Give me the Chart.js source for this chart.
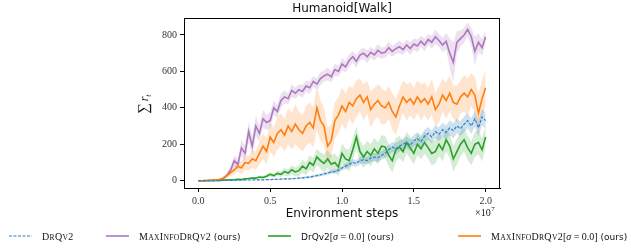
<!DOCTYPE html>
<html>
<head>
<meta charset="utf-8">
<script src="https://cdn.jsdelivr.net/npm/chart.js@4.4.1/dist/chart.umd.min.js"></script>
<style>
  html, body { margin: 0; padding: 0; background: #fff; }
  canvas { display: block; }
</style>
</head>
<body>
<canvas id="c" width="631" height="248"></canvas>
<script>
// Humanoid[Walk] - episode return vs environment steps (in millions)

const steps = [
  0, 0.25, 0.5, 0.75, 1, 1.25, 1.5, 1.75, 2, 2.25,
  2.5, 2.75, 3, 3.25, 3.5, 3.75, 4, 4.25, 4.5, 4.75,
  5, 5.25, 5.5, 5.75, 6, 6.25, 6.5, 6.75, 7, 7.25,
  7.5, 7.75, 8, 8.25, 8.5, 8.75, 9, 9.25, 9.5, 9.75,
  10, 10.25, 10.5, 10.75, 11, 11.25, 11.5, 11.75, 12, 12.25,
  12.5, 12.75, 13, 13.25, 13.5, 13.75, 14, 14.25, 14.5, 14.75,
  15, 15.25, 15.5, 15.75, 16, 16.25, 16.5, 16.75, 17, 17.25,
  17.5, 17.75, 18, 18.25, 18.5, 18.75, 19, 19.25, 19.5, 19.75,
  20
];

const drqv2 = [
  0, 0, 0, 0, 1, 1, 1, 2, 2, 2,
  3, 3, 3, 4, 4, 4, 5, 5, 5, 6,
  6, 7, 8, 9, 10, 10, 11, 12, 14, 16,
  18, 20, 24, 28, 32, 38, 42, 48, 50, 58,
  70, 80, 90, 100, 95, 110, 115, 110, 125, 130,
  125, 140, 150, 170, 185, 175, 190, 200, 210, 195,
  220, 230, 215, 245, 260, 240, 270, 255, 280, 265,
  290, 275, 300, 285, 310, 330, 300, 340, 290, 350,
  330
];
const drqv2Spread = [
  0, 0, 0, 0, 0, 0, 0, 0, 1, 1,
  1, 1, 1, 1, 1, 2, 2, 2, 2, 2,
  2, 3, 3, 3, 3, 4, 4, 4, 5, 5,
  6, 6, 7, 8, 8, 9, 10, 10, 12, 12,
  14, 15, 16, 18, 18, 20, 20, 22, 22, 24,
  24, 25, 26, 28, 28, 30, 30, 30, 32, 32,
  32, 34, 34, 35, 35, 36, 36, 38, 38, 38,
  40, 40, 40, 40, 42, 42, 42, 44, 44, 45,
  45
];

const maxInfo = [
  0, 0, 1, 1, 2, 3, 5, 12, 30, 60,
  110, 90, 180, 150, 270, 190, 300, 260, 340, 320,
  330, 400, 380, 440, 460, 450, 495, 480, 500, 490,
  520, 510, 545, 530, 560, 575, 585, 570, 610, 600,
  640, 625, 660, 680, 655, 690, 700, 680, 705, 690,
  715, 700, 705, 730, 710, 725, 735, 720, 745, 725,
  750, 740, 765, 745, 775, 760, 790, 770, 745, 765,
  700, 650, 760, 780, 800, 830, 790, 710, 760, 730,
  790
];
const maxInfoSpread = [
  0, 0, 0, 1, 1, 2, 3, 6, 12, 20,
  30, 30, 45, 40, 55, 50, 55, 45, 50, 40,
  45, 40, 35, 40, 35, 30, 35, 30, 30, 35,
  30, 35, 30, 30, 35, 30, 35, 30, 35, 30,
  35, 30, 35, 30, 35, 30, 30, 35, 30, 30,
  35, 30, 30, 35, 30, 30, 35, 30, 30, 35,
  30, 35, 30, 35, 30, 35, 40, 35, 40, 45,
  80, 110, 60, 45, 40, 40, 50, 80, 50, 45,
  40
];

const drqv2Sigma0 = [
  0, 0, 0, 1, 1, 2, 2, 3, 4, 5,
  5, 8, 7, 10, 12, 15, 14, 20, 18, 25,
  35, 28, 40, 35, 50, 42, 60, 48, 55, 80,
  65, 100, 85, 130, 110, 95, 120, 90, 100, 75,
  150, 120, 110, 170, 240, 160, 130, 160, 140, 175,
  150, 190, 185, 140, 110, 170, 185, 160, 210, 180,
  150, 200, 175, 210, 180, 150, 160, 200, 170, 225,
  190, 120, 160, 200, 225, 180, 150, 200, 210, 170,
  240
];
const drqv2Sigma0Spread = [
  0, 0, 0, 0, 1, 1, 1, 2, 2, 3,
  3, 4, 4, 5, 5, 6, 6, 8, 8, 10,
  12, 12, 15, 15, 20, 20, 25, 25, 30, 35,
  35, 40, 40, 45, 45, 50, 50, 50, 50, 50,
  55, 55, 60, 60, 60, 60, 60, 60, 60, 60,
  60, 60, 60, 60, 65, 65, 60, 60, 60, 60,
  60, 60, 60, 60, 60, 65, 65, 65, 65, 65,
  65, 70, 70, 70, 65, 65, 65, 70, 65, 65,
  60
];

const maxInfoSigma0 = [
  0, 0, 1, 1, 2, 3, 8, 15, 30, 45,
  60, 80, 70, 100, 95, 120, 110, 150, 190, 160,
  240, 210, 260, 280, 250, 300, 270, 310, 280, 260,
  300, 320, 290, 400, 330, 300, 190, 220, 330, 360,
  410, 380, 430, 410, 450, 470, 430, 460, 390, 420,
  440, 410, 400, 430, 380, 350, 410, 460, 430, 450,
  420, 460, 430, 450, 420, 460, 390, 420, 470, 440,
  480, 430, 420, 460, 480, 460, 500, 470, 370, 450,
  510
];
const maxInfoSigma0Spread = [
  0, 0, 0, 1, 1, 2, 5, 8, 12, 18,
  25, 30, 35, 40, 40, 50, 50, 60, 70, 70,
  80, 80, 90, 90, 90, 100, 100, 110, 100, 100,
  110, 110, 110, 120, 110, 100, 100, 90, 100, 100,
  100, 100, 90, 100, 100, 90, 100, 90, 100, 90,
  90, 100, 90, 90, 100, 100, 90, 90, 100, 90,
  90, 90, 100, 90, 90, 100, 90, 100, 90, 100,
  100, 90, 100, 90, 100, 100, 90, 100, 110, 100,
  100
];

const xTicks = [0, 5, 10, 15, 20];
const yTicks = [0, 200, 400, 600, 800];

const SERIF = '"Liberation Serif", "DejaVu Serif", serif';
const SANS = '"DejaVu Sans", sans-serif';

const BLUE = "#2f7fc8";
const PURPLE = "#ad78bd";
const GREEN = "#2ca02c";
const ORANGE = "#ff7f0e";

// legend texts: pieces with a style (sc = small caps serif, math = serif, sans)
const legendLabels = [
  [["DrQv2", "sc"]],
  [["MaxInfoDrQv2", "sc"], [" (ours)", "sans"]],
  [["DrQv2", "sans"], ["[", "math"], ["σ", "mathit"], [" = 0.0]", "math"], [" (ours)", "sans"]],
  [["MaxInfoDrQv2", "sc"], ["[", "math"], ["σ", "mathit"], [" = 0.0]", "math"], [" (ours)", "sans"]],
];
const legendX = [9, 106, 268, 458];

const series = [
  { label: "DrQv2", mean: drqv2, spread: drqv2Spread, color: BLUE, band: "rgba(31,119,180,0.22)", dash: [3, 1.5], width: 1.2, order: 1 },
  { label: "MaxInfoDrQv2 (ours)", mean: maxInfo, spread: maxInfoSpread, color: PURPLE, band: "rgba(173,120,189,0.22)", dash: [], width: 1.6, order: 4 },
  { label: "DrQv2[σ = 0.0] (ours)", mean: drqv2Sigma0, spread: drqv2Sigma0Spread, color: GREEN, band: "rgba(44,160,44,0.2)", dash: [], width: 1.6, order: 3 },
  { label: "MaxInfoDrQv2[σ = 0.0] (ours)", mean: maxInfoSigma0, spread: maxInfoSigma0Spread, color: ORANGE, band: "rgba(255,127,14,0.2)", dash: [], width: 1.6, order: 2 },
];

const datasets = [];
series.forEach((s, k) => {
  const upper = steps.map((x, i) => ({ x, y: s.mean[i] + s.spread[i] }));
  const lower = steps.map((x, i) => ({ x, y: s.mean[i] - s.spread[i] }));
  datasets.push({
    label: s.label + " hi", data: upper, borderWidth: 0, pointRadius: 0,
    backgroundColor: s.band, fill: "+1", order: 20 + k, tension: 0,
  });
  datasets.push({
    label: s.label + " lo", data: lower, borderWidth: 0, pointRadius: 0,
    backgroundColor: s.band, fill: false, order: 20 + k, tension: 0,
  });
});
series.forEach((s) => {
  datasets.push({
    label: s.label, data: steps.map((x, i) => ({ x, y: s.mean[i] })),
    borderColor: s.color, borderWidth: s.width, borderDash: s.dash,
    pointRadius: 0, fill: false, tension: 0, order: s.order,
  });
});

function drawPieces(ctx, pieces, x, y) {
  let cx = x;
  ctx.textBaseline = "alphabetic";
  ctx.textAlign = "left";
  for (const [text, style] of pieces) {
    if (style === "sc") {
      for (const ch of text) {
        const low = ch !== ch.toUpperCase();
        ctx.font = (low ? "7.6px " : "10px ") + SERIF;
        const c = ch.toUpperCase();
        ctx.fillText(c, cx, y);
        cx += ctx.measureText(c).width + 0.3;
      }
    } else {
      if (style === "sans") ctx.font = "9px " + SANS;
      else if (style === "mathit") ctx.font = "italic 10px " + SERIF;
      else ctx.font = "10px " + SERIF;
      ctx.fillText(text, cx, y);
      cx += ctx.measureText(text).width;
    }
  }
}

const decor = {
  id: "decor",
  afterDraw(chart) {
    const ctx = chart.ctx;
    const a = chart.chartArea;
    ctx.save();
    ctx.strokeStyle = "#000";
    ctx.lineWidth = 1;
    ctx.strokeRect(Math.round(a.left) + 0.5, Math.round(a.top) + 0.5, Math.round(a.right - a.left) - 1, Math.round(a.bottom - a.top));
    ctx.fillStyle = "#111";

    // title
    ctx.font = "12px " + SANS;
    ctx.textAlign = "center";
    ctx.textBaseline = "middle";
    ctx.fillText("Humanoid[Walk]", (a.left + a.right) / 2, 9);

    // x label
    ctx.fillText("Environment steps", (a.left + a.right) / 2, 214);

    // multiplier
    ctx.textAlign = "left";
    ctx.textBaseline = "alphabetic";
    ctx.font = "10px " + SERIF;
    ctx.fillText("×10", 475, 216);
    const w = ctx.measureText("×10").width;
    ctx.font = "7px " + SERIF;
    ctx.fillText("7", 475 + w + 0.5, 211);

    // y label
    ctx.save();
    ctx.translate(148, 114);
    ctx.rotate(-Math.PI / 2);
    ctx.font = "15px " + SERIF;
    ctx.fillText("∑", 0, 0);
    const sw = ctx.measureText("∑").width;
    ctx.font = "italic 12px " + SERIF;
    ctx.fillText("r", sw + 2, 0);
    const rw = ctx.measureText("r").width;
    ctx.font = "italic 8px " + SERIF;
    ctx.fillText("t", sw + 2 + rw, 3);
    ctx.restore();

    // legend
    series.forEach((s, k) => {
      const lx = legendX[k];
      const ly = 236;
      ctx.beginPath();
      ctx.strokeStyle = s.color;
      ctx.lineWidth = s.width;
      ctx.setLineDash(s.dash);
      ctx.moveTo(lx, ly);
      ctx.lineTo(lx + 23, ly);
      ctx.stroke();
      ctx.setLineDash([]);
      ctx.fillStyle = "#111";
      drawPieces(ctx, legendLabels[k], lx + 33, ly + 3.5);
    });
    ctx.restore();
  },
};

new Chart(document.getElementById("c"), {
  type: "line",
  data: { datasets },
  plugins: [decor],
  options: {
    responsive: false,
    animation: false,
    devicePixelRatio: 1,
    layout: { padding: { left: 0, right: 131, top: 18, bottom: 0 } },
    plugins: { legend: { display: false }, tooltip: { enabled: false }, title: { display: false } },
    scales: {
      x: {
        type: "linear",
        min: -1,
        max: 21,
        afterBuildTicks: (s) => { s.ticks = xTicks.map((v) => ({ value: v })); },
        afterFit: (s) => { s.height = 60; },
        grid: { drawOnChartArea: false, drawTicks: true, tickLength: 4, color: "#000" },
        border: { display: true, color: "#000" },
        ticks: {
          padding: 3,
          color: "#333",
          font: { family: SERIF, size: 10 },
          maxRotation: 0,
          callback: (v) => (v / 10).toFixed(1),
        },
      },
      y: {
        min: -40,
        max: 893,
        afterBuildTicks: (s) => { s.ticks = yTicks.map((v) => ({ value: v })); },
        afterFit: (s) => { s.width = 184; },
        grid: { drawOnChartArea: false, drawTicks: true, tickLength: 4, color: "#000" },
        border: { display: true, color: "#000" },
        ticks: {
          padding: 3,
          color: "#333",
          font: { family: SERIF, size: 10 },
          callback: (v) => String(v),
        },
      },
    },
  },
});
</script>
</body>
</html>
